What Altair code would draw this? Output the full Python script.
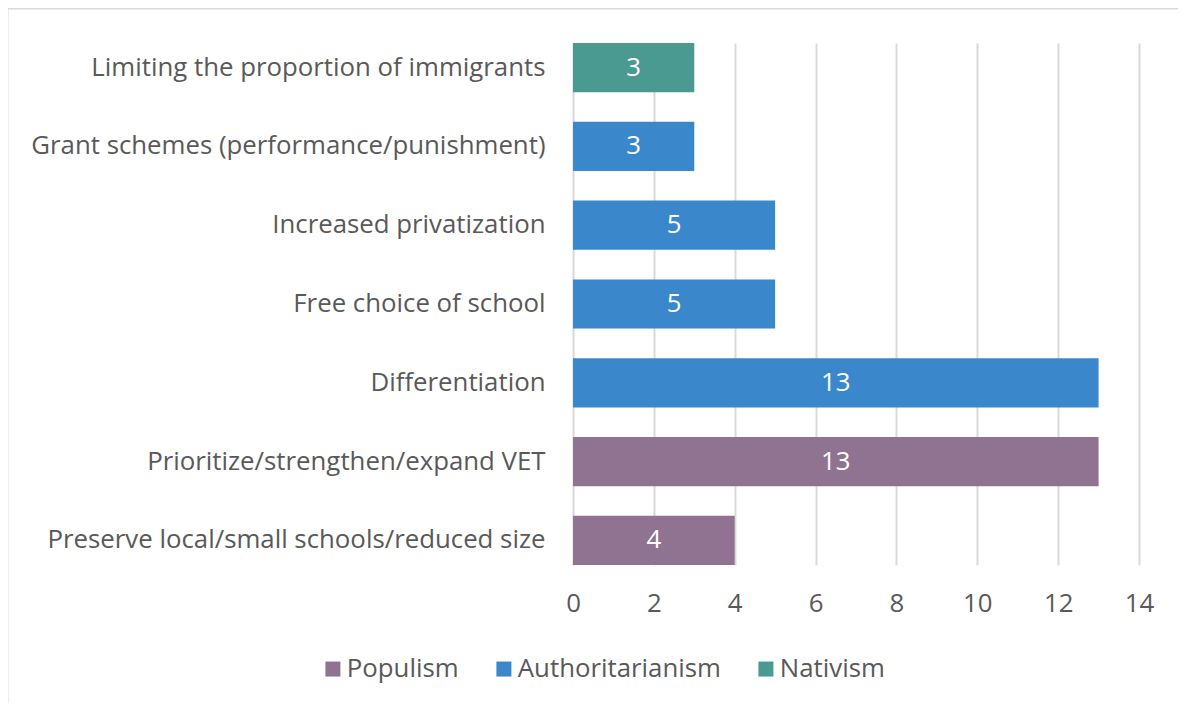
import altair as alt
import pandas as pd

categories = [
    "Limiting the proportion of immigrants",
    "Grant schemes (performance/punishment)",
    "Increased privatization",
    "Free choice of school",
    "Differentiation",
    "Prioritize/strengthen/expand VET",
    "Preserve local/small schools/reduced size",
]
values = [3, 3, 5, 5, 13, 13, 4]
groups = ["Nativism", "Authoritarianism", "Authoritarianism", "Authoritarianism",
          "Authoritarianism", "Populism", "Populism"]
group_order = ["Populism", "Authoritarianism", "Nativism"]
group_colors = ["#8F7391", "#3B87CB", "#4A9A91"]
x_ticks = [0, 2, 4, 6, 8, 10, 12, 14]

df = pd.DataFrame({"category": categories, "value": values, "group": groups})

W, H = 566, 522
FONT = "Open Sans"
FS = 25.8
TXT = "#595959"

y_enc = alt.Y(
    "category:N", sort=categories,
    scale=alt.Scale(paddingInner=0.375, paddingOuter=0),
    axis=alt.Axis(title=None, ticks=False, domain=False, grid=False,
                  labelFontSize=FS, labelColor=TXT, labelFont=FONT,
                  labelPadding=28, labelLimit=700),
)
x_enc = alt.X(
    "value:Q", scale=alt.Scale(domain=[0, 14], nice=False),
    axis=alt.Axis(title=None, values=x_ticks, ticks=False, domain=False,
                  grid=True, gridColor="#d9d9d9", gridWidth=2,
                  labelFontSize=FS, labelColor=TXT, labelFont=FONT,
                  labelFlush=False, labelOverlap=False,
                  labelBaseline="middle", labelPadding=38),
)

base = alt.Chart(df)

border = alt.Chart(pd.DataFrame({"a": [0]})).mark_rect(
    fillOpacity=0, stroke="#d9d9d9", strokeWidth=3, clip=False
).encode(
    x=alt.value(-566), x2=alt.value(W + 200),
    y=alt.value(-35), y2=alt.value(H + 400),
)

bars = base.mark_bar().encode(
    x=x_enc, y=y_enc,
    color=alt.Color(
        "group:N",
        scale=alt.Scale(domain=group_order, range=group_colors),
        legend=alt.Legend(
            title=None, orient="none", direction="horizontal",
            legendX=-253, legendY=613, padding=0,
            symbolType="square", symbolSize=225, symbolStrokeWidth=0,
            labelFontSize=FS, labelColor=TXT, labelFont=FONT,
            labelOffset=1, columnPadding=32, labelLimit=500,
        ),
    ),
)

labels = base.transform_calculate(mid="datum.value / 2").mark_text(
    color="white", font=FONT, fontSize=FS, baseline="middle", align="center"
).encode(
    x=alt.X("mid:Q"), y=alt.Y("category:N", sort=categories), text="value:Q"
)

chart = alt.layer(border, bars, labels).properties(
    width=W, height=H,
    autosize=alt.AutoSizeParams(type="none"),
    padding={"left": 565, "top": 35, "right": 39, "bottom": 138},
    background="white",
).configure_view(stroke=None)

chart.save("out.html", embed_options={"renderer": "svg", "actions": False})
